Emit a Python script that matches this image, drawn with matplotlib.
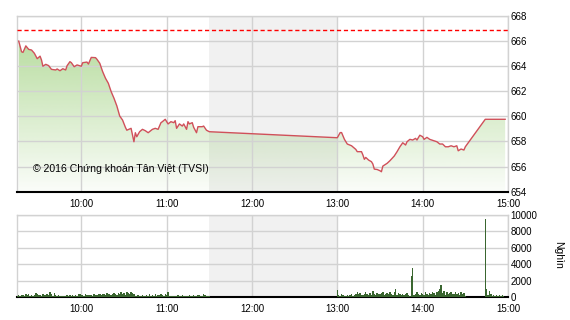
import matplotlib
matplotlib.use("Agg")
import matplotlib.pyplot as plt
import numpy as np
from matplotlib.colors import to_rgb

plt.rcParams['font.family'] = ['Liberation Sans', 'DejaVu Sans']

# --- data ---
ref_price = 666.86

price_times = [
    "9:16", "9:18", "9:19", "9:21", "9:23", "9:25", "9:27", "9:29", "9:31", "9:32",
    "9:33", "9:35", "9:37", "9:39", "9:42", "9:43", "9:45", "9:47", "9:49", "9:50",
    "9:52", "9:53", "9:55", "9:57", "10:00", "10:01", "10:04", "10:05", "10:07", "10:10",
    "10:11", "10:13", "10:15", "10:17", "10:19", "10:21", "10:23", "10:25", "10:27", "10:29",
    "10:31", "10:32", "10:35", "10:36", "10:37", "10:38", "10:39", "10:41", "10:43", "10:45",
    "10:47", "10:50", "10:52", "10:54", "10:56", "10:57", "10:59", "11:01", "11:03", "11:05",
    "11:06", "11:07", "11:09", "11:11", "11:12", "11:14", "11:15", "11:16", "11:18", "11:19",
    "11:21", "11:22", "11:25", "11:26", "11:28", "11:30",
    "13:00", "13:02", "13:03", "13:05", "13:07", "13:10", "13:13", "13:14", "13:17", "13:18",
    "13:19", "13:20", "13:22", "13:24", "13:25", "13:26", "13:28", "13:30", "13:31", "13:32",
    "13:35", "13:37", "13:40", "13:42", "13:44", "13:46", "13:48", "13:49", "13:51", "13:53",
    "13:55", "13:56", "13:58", "14:00", "14:01", "14:03", "14:05", "14:08", "14:10", "14:12",
    "14:14", "14:16", "14:18", "14:20", "14:22", "14:24", "14:25", "14:27", "14:29", "14:30",
    "14:44", "14:58",
]
price_values = [
    666.00, 665.15, 665.10, 665.62, 665.34, 665.29, 665.03, 664.60, 664.80, 664.50,
    664.00, 664.15, 664.05, 663.75, 663.70, 663.78, 663.64, 663.80, 663.70, 664.04,
    664.36, 664.28, 663.96, 664.10, 664.00, 664.28, 664.33, 664.17, 664.70, 664.68,
    664.55, 664.23, 663.57, 663.04, 662.64, 661.97, 661.44, 660.83, 660.03, 659.71,
    659.13, 658.90, 659.05, 658.50, 657.98, 658.70, 658.38, 658.78, 658.97, 658.86,
    658.70, 658.97, 659.05, 658.97, 659.50, 659.58, 659.77, 659.40, 659.58, 659.50,
    659.66, 659.05, 659.40, 659.23, 659.40, 658.97, 659.58, 659.40, 659.50, 659.13,
    658.70, 659.18, 659.18, 659.23, 658.90, 658.78,
    658.30, 658.71, 658.71, 658.17, 657.80, 657.66, 657.37, 657.19, 657.19, 656.92,
    656.58, 656.73, 656.52, 656.39, 656.20, 655.80, 655.77, 655.67, 655.59, 656.04,
    656.26, 656.47, 656.84, 657.19, 657.58, 657.90, 657.72, 657.98, 658.17, 658.12,
    658.25, 658.12, 658.50, 658.38, 658.17, 658.33, 658.17, 658.06, 657.98, 657.80,
    657.80, 657.58, 657.58, 657.66, 657.58, 657.66, 657.26, 657.40, 657.32, 657.58,
    659.77, 659.77,
]

# volume in thousands, one bar per minute
vol_morning_start = "9:15"
vol_morning = [
    120, 250, 180, 300, 220, 150, 350, 280, 420, 200,
    260, 180, 300, 500, 350, 220, 280, 180, 400, 300,
    250, 450, 320, 600, 380, 200, 520, 300, 180, 250,
    150, 120, 200, 180, 100, 250, 150, 220, 180, 300,
    200, 250, 180, 400, 350, 300, 250, 200, 350, 280,
    220, 300, 250, 180, 350, 300, 220, 400, 350, 280,
    450, 380, 300, 500, 420, 350, 300, 450, 520, 380,
    300, 550, 420, 600, 350, 480, 300, 650, 500, 380,
    700, 550, 420, 200, 150, 300, 180, 120, 250, 200,
    150, 300, 200, 400, 180, 220, 150, 350, 200, 300,
    250, 400, 300, 200, 350, 250, 700, 200, 150, 180,
    200, 150, 180, 220, 150, 200, 250, 180, 150, 200,
    180, 220, 150, 200, 250, 180, 200, 300, 220, 180,
    200, 350, 250, 180, 200, 150,
]
vol_afternoon_start = "13:00"
vol_afternoon = [
    850, 300, 150, 400, 250, 120, 200, 300, 180, 250,
    350, 200, 300, 450, 700, 350, 500, 300, 250, 400,
    600, 350, 250, 500, 300, 800, 450, 300, 550, 400,
    350, 500, 650, 300, 450, 550, 400, 600, 350, 250,
    650, 970, 300, 500, 400, 250, 450, 300, 350, 500,
    300, 200, 2600, 3500, 250, 400, 600, 350, 300, 500,
    450, 300, 600, 350, 250, 500, 400, 700, 550, 300,
    650, 800, 1000, 1550, 500, 750, 300, 600, 400, 550,
    700, 400, 350, 600, 450, 500, 300, 650, 400, 550,
    200,
]
vol_close_start = "14:44"
vol_close = [9500, 1000, 300, 750, 350, 200, 250, 150, 300, 200, 250, 150, 300, 200]

hour_ticks = [10, 11, 12, 13, 14, 15]
hour_labels = ["10:00", "11:00", "12:00", "13:00", "14:00", "15:00"]
price_ticks = [654, 656, 658, 660, 662, 664, 666, 668]
vol_ticks = [0, 2000, 4000, 6000, 8000, 10000]


def to_hours(s):
    h, m = s.split(":")
    return int(h) + int(m) / 60


grid_c = "#d2d2d2"
t0, t1 = to_hours("9:15"), 15.0

fig = plt.figure(figsize=(5.7, 3.2), dpi=100)
ax = fig.add_axes([17.3 / 570, 128.3 / 320, 490.7 / 570, 175.7 / 320])
ax2 = fig.add_axes([17.3 / 570, 22.7 / 320, 490.7 / 570, 82.3 / 320])

for a in (ax, ax2):
    a.axvspan(11.5, 13.0, color="#f1f1f1", lw=0, zorder=0.2)
    a.set_xlim(t0, t1)
    a.set_xticks(hour_ticks)
    a.set_xticklabels(hour_labels)
    a.grid(True, color=grid_c, lw=1.0)
    a.yaxis.tick_right()
    a.tick_params(length=0, labelsize=7, pad=2)
    a.tick_params(axis="x", pad=5)
    for s in ("top", "left", "right"):
        a.spines[s].set_color(grid_c)
        a.spines[s].set_linewidth(1.0)
    a.spines["bottom"].set_color("black")
    a.spines["bottom"].set_linewidth(1.5)

# --- price panel ---
pt = np.array([to_hours(s) for s in price_times])
pv = np.array(price_values)
ax.set_ylim(654, 668)
ax.set_yticks(price_ticks)

poly = ax.fill_between(pt, pv, 654, color="none", lw=0)
n = 256
grad = np.zeros((n, 1, 4))
grad[:, 0, :3] = to_rgb("#6eb93c")
grad[:, 0, 3] = np.linspace(0.55, 0.03, n)
img = ax.imshow(grad, extent=[t0, t1, 654, 668], aspect="auto", origin="upper", zorder=1)
img.set_clip_path(poly.get_paths()[0], transform=ax.transData)

ax.plot(pt, pv, color="#d0505a", lw=1.0, zorder=3)
ax.axhline(ref_price, color="#ff0000", lw=1.0, ls=(0, (3, 2)), zorder=3)

ax.text(0.031, 0.129, "\u00a9 2016 Ch\u1ee9ng kho\u00e1n T\u00e2n Vi\u1ec7t (TVSI)",
        transform=ax.transAxes, fontsize=7.6, va="center", ha="left", zorder=4)

# --- volume panel ---
segments = [(vol_morning_start, vol_morning), (vol_afternoon_start, vol_afternoon),
            (vol_close_start, vol_close)]
for start, vols in segments:
    vt = to_hours(start) + np.arange(len(vols)) / 60
    ax2.bar(vt, vols, width=1.0 / 60, color="#3a6630", lw=0, zorder=3)
ax2.set_ylim(0, 10000)
ax2.set_yticks(vol_ticks)
fig.text(558 / 570, 65 / 320, "Ngh\u00ecn", rotation=270, fontsize=7.5,
         ha="center", va="center")

fig.savefig("out.png", dpi=100)
